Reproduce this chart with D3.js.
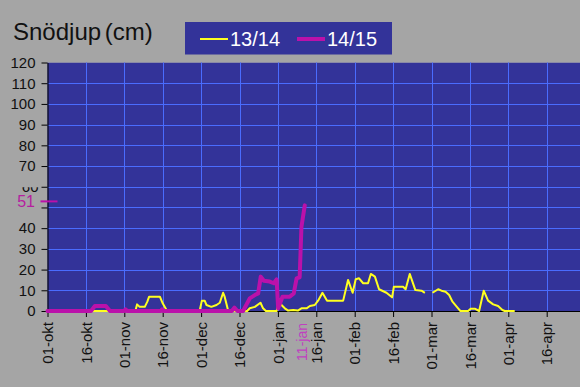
<!DOCTYPE html>
<html>
<head>
<meta charset="utf-8">
<script src="https://cdn.jsdelivr.net/npm/d3@7"></script>
<style>
  body { margin: 0; background: #a5a5a5; }
  svg { display: block; font-family: "Liberation Sans", Arial, sans-serif; }
</style>
</head>
<body>
<div id="container"></div>
<script>
// Data: x = day index from 01-okt (each labelled tick = 15 steps), y = snow depth in cm
const tickLabels = ["01-okt", "16-okt", "01-nov", "16-nov", "01-dec", "16-dec", "01-jan",
  "16-jan", "01-feb", "16-feb", "01-mar", "16-mar", "01-apr", "16-apr"];
const yTicks = [0, 10, 20, 30, 40, 50, 60, 70, 80, 90, 100, 110, 120];

// 13/14 (null = missing reading)
const days1314 = [0, 34, 34.5, 35, 36, 38, 39, 39.7, 43.9, 45, 46.5, 47, 59, 59.5, 60.3, 61.4, 62.1, 64, 66,
  67.3, 68.6, 69.2, 70.5, 71, 78, 79, 81, 83.2, 84.2, 85.3, 89.5, 90.7, 91.4, 92.7, 94, 96, 97.8, 99.2,
  101.2, 102.5, 104.4, 105.7, 107.4, 109.2, 115.5, 117.4, 119.2, 120.4, 121.7, 123.3, 125.2, 126.3,
  127.9, 129.5, 132.4, 134.6, 135.3, 138.9, 139.9, 141.5, 143.7, 146.1, 147.4, 149, 150.4, 152.6, 153.9,
  155.5, 156.9, 158.2, 160.4, 161.3, 164.3, 165.3, 166.9, 168.6, 170.4, 172.1, 174.1, 176, 177.7, 178.6, 182.5];
const vals1314 = [0, 0, 0.8, 3.2, 2, 2, 4.5, 6.9, 6.9, 3.7, 0.5, 0, 0, 0.5, 5, 5, 2.9, 2, 2.9,
  4, 8.8, 6.9, 0.5, 0, 0, 1.3, 2, 4, 1.3, 0, 0, 5.6, 2.9, 1.3, 0.2, 0.5, 0.2, 1.3,
  1.3, 2.4, 2.9, 5, 8.8, 5, 5, 15, 8.8, 15.3, 15.8, 13.4, 13.4, 17.9,
  16.6, 10.5, 8.8, 6.6, 11.7, 11.7, 10.5, 17.9, 10.1, 9.8, 8.8, null, 8.8, 10.5, 9.8,
  9.3, 7.7, 4.5, 1.3, 0, 0, 1.1, 1.1, 0, 9.8, 5, 3.2, 2.4, 0.5, 0, 0];

// 14/15
const days1415 = [0, 17, 18.5, 22.8, 24.4, 30, 30.5, 31, 44.3, 44.8, 45.3, 72, 73, 74.2, 76.4, 79, 81,
  82.3, 83.3, 84.5, 86.8, 88.4, 89.5, 90.1, 91.8, 94.6, 96.2, 97.3, 98.5, 99.2, 100.5];
const vals1415 = [0, 0, 2.4, 2.4, 0, 0, 0.8, 0, 0, 0.8, 0, 0, 1.6, 0, 0, 6.1, 7.7,
  8.5, 16.6, 14.6, 14.2, 13.4, 15.3, 1.3, 6.9, 6.9, 8.5, 15.8, 16.3, 40.7, 51];

const lastLabel = "11-jan";
const lastValue = 51;

// Layout
const width = 580;
const height = 387;
const plotLeft = 47.5;
const plotRight = 580;
const plotTop = 62.5;
const plotBottom = 311;
const magenta = "#bb11aa";
const yellow = "#ffff20";

const svg = d3.select("#container")
  .append("svg")
  .attr("width", width)
  .attr("height", height);

svg.append("rect").attr("width", width).attr("height", height).attr("fill", "#a5a5a5");

// Scales
const xScale = d3.scaleLinear().domain([0, (plotRight - plotLeft) / 2.56]).range([plotLeft, plotRight]);
const yScale = d3.scaleLinear().domain([0, 120]).range([plotBottom, plotTop]);
const tickDays = tickLabels.map((d, i) => i * 15);
const yMark = yScale(lastValue) - 4;

// clip for the half hidden "60" label
svg.append("clipPath").attr("id", "clip60")
  .append("rect").attr("x", 0).attr("y", 0).attr("width", plotLeft).attr("height", yMark - 17);

// Plot area
svg.append("rect")
  .attr("x", plotLeft).attr("y", plotTop)
  .attr("width", plotRight - plotLeft).attr("height", plotBottom - plotTop)
  .attr("fill", "#333399");
svg.append("line")
  .attr("x1", plotLeft).attr("x2", plotRight).attr("y1", plotTop).attr("y2", plotTop)
  .attr("stroke", "#8a8aa8").attr("stroke-width", 1);

// Grid
svg.append("g").selectAll("line")
  .data(yTicks.slice(1, -1))
  .enter().append("line")
  .attr("x1", plotLeft).attr("x2", plotRight)
  .attr("y1", (d) => Math.round(yScale(d)) + 0.5).attr("y2", (d) => Math.round(yScale(d)) + 0.5)
  .attr("stroke", "#4a6cff").attr("stroke-width", 1);
svg.append("g").selectAll("line")
  .data(tickDays.slice(1))
  .enter().append("line")
  .attr("x1", (d) => Math.round(xScale(d)) + 0.5).attr("x2", (d) => Math.round(xScale(d)) + 0.5)
  .attr("y1", plotTop).attr("y2", plotBottom)
  .attr("stroke", "#4a6cff").attr("stroke-width", 1);

// Axes
const yAxis = d3.axisLeft(yScale).tickValues(yTicks).tickSize(6).tickSizeOuter(0).tickPadding(6)
  .tickFormat((d) => (d === 50 ? "" : d));
const yG = svg.append("g").attr("transform", `translate(${plotLeft},0)`).call(yAxis);
yG.selectAll("text").attr("font-size", 15).attr("fill", "#111").attr("font-family", "Liberation Sans, Arial");
yG.selectAll("line, path").attr("stroke", "#000");
yG.selectAll(".tick").filter((d) => d === 60).select("text")
  .attr("transform", `translate(${-plotLeft},0)`).attr("x", plotLeft - 9)
  .attr("clip-path", "url(#clip60)");
yG.selectAll(".tick").filter((d) => d === 60)
  .attr("clip-path", null);

const xAxis = d3.axisBottom(xScale).tickValues(tickDays).tickFormat((d, i) => tickLabels[i])
  .tickSize(6).tickSizeOuter(0);
const xG = svg.append("g").attr("transform", `translate(0,${plotBottom})`).call(xAxis);
xG.selectAll("line, path").attr("stroke", "#000");
xG.selectAll("text")
  .attr("font-size", 15).attr("fill", "#111").attr("font-family", "Liberation Sans, Arial")
  .attr("text-anchor", "end")
  .attr("transform", "rotate(-90)")
  .attr("x", -11).attr("y", 0).attr("dy", "0.35em");

// Lines
const line = d3.line()
  .defined((d) => d[1] !== null)
  .x((d) => xScale(d[0]))
  .y((d) => yScale(d[1]));

const s1314 = days1314.map((d, i) => [d, vals1314[i]]);
const s1415 = days1415.map((d, i) => [d, vals1415[i]]);

svg.append("path")
  .datum(s1314)
  .attr("d", line)
  .attr("fill", "none")
  .attr("stroke", yellow)
  .attr("stroke-width", 2)
  .attr("stroke-linejoin", "round");

svg.append("path")
  .datum(s1415)
  .attr("d", line)
  .attr("fill", "none")
  .attr("stroke", magenta)
  .attr("stroke-width", 4)
  .attr("stroke-linejoin", "round")
  .attr("stroke-linecap", "round");

// Last value marker on the y axis
svg.append("line")
  .attr("x1", plotLeft - 7).attr("x2", plotLeft + 10)
  .attr("y1", yMark).attr("y2", yMark)
  .attr("stroke", magenta).attr("stroke-width", 2);
svg.append("text")
  .attr("x", 35).attr("y", yMark)
  .attr("dy", "0.36em")
  .attr("text-anchor", "end")
  .attr("font-size", 16)
  .attr("fill", "#b5209f")
  .text(lastValue);

// Last date label
svg.append("text")
  .attr("transform", `translate(${xScale(days1415[days1415.length - 1]) - 3},${plotBottom + 12}) rotate(-90)`)
  .attr("dy", "0.35em")
  .attr("text-anchor", "end")
  .attr("font-size", 14)
  .attr("fill", "#c040c0")
  .text(lastLabel);

// Title
svg.append("text")
  .attr("x", 13).attr("y", 40)
  .attr("font-size", 24)
  .attr("word-spacing", -3)
  .attr("fill", "#111")
  .text("Snödjup (cm)");

// Legend
const legendData = [
  { text: "13/14", color: yellow, w: 2, x: 200 },
  { text: "14/15", color: magenta, w: 4, x: 297 },
];
const legend = svg.append("g").attr("id", "legend");
legend.append("rect")
  .attr("x", 185).attr("y", 22).attr("width", 207).attr("height", 32.5)
  .attr("fill", "#333399");
legend.selectAll("line")
  .data(legendData)
  .enter().append("line")
  .attr("x1", (d) => d.x).attr("x2", (d) => d.x + 28)
  .attr("y1", 39).attr("y2", 39)
  .attr("stroke", (d) => d.color).attr("stroke-width", (d) => d.w);
legend.selectAll("text")
  .data(legendData)
  .enter().append("text")
  .attr("x", (d) => d.x + 30).attr("y", 46)
  .attr("font-size", 20)
  .attr("fill", "#fff")
  .text((d) => d.text);
</script>
</body>
</html>
